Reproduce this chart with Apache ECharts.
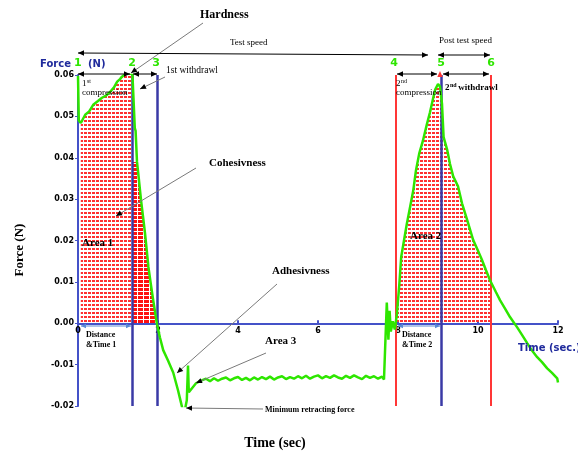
<!DOCTYPE html>
<html><head><meta charset="utf-8">
<script src="https://cdn.jsdelivr.net/npm/echarts@6/dist/echarts.min.js"></script>
<style>html,body{margin:0;padding:0;background:#fff}#c{width:578px;height:455px}</style>
</head><body><div id="c"></div>
<script>
// ---- data (time in s, force in N) ----
const curveT = [0.00,0.02,0.07,0.18,0.28,0.38,0.50,0.60,0.70,0.80,0.90,0.98,1.05,1.10,1.17,1.23,1.30,1.36,
1.42,1.44,1.475,1.525,1.575,1.625,1.675,1.72,1.76,1.82,1.88,1.93,1.97,
2.05,2.13,2.25,2.38,2.50,2.57,2.62,2.68,2.72,2.75,2.77,2.85,2.95,3.05,
3.1,3.2,3.3,3.4,3.5,3.6,3.7,3.8,3.9,4.0,4.1,4.2,4.3,4.4,4.5,4.6,4.7,4.8,4.9,5.0,5.1,5.2,5.3,5.4,5.5,5.6,5.7,5.8,5.9,6.0,6.1,6.2,6.3,6.4,6.5,6.6,6.7,6.8,6.9,7.0,7.1,7.2,7.3,7.4,7.5,7.6,7.65,
7.70,7.72,7.76,7.79,7.82,7.87,7.92,7.97,8.03,8.08,8.15,8.22,8.30,8.38,8.45,8.53,8.62,8.72,8.80,8.87,8.93,9.00,
9.05,9.10,9.14,9.23,9.30,9.38,9.50,9.60,9.73,9.88,10.00,10.10,10.20,10.30,10.45,10.55,10.68,10.80,10.98,11.10,11.23,11.35,11.48,11.60,11.73,11.85,11.98,12.00];
const curveF = [0.0598,0.0490,0.0484,0.0504,0.0512,0.0528,0.0537,0.0545,0.0550,0.0559,0.0570,0.0584,0.0590,0.0596,0.0601,0.0605,0.0603,0.0603,
0.0472,0.0465,0.0390,0.0345,0.0298,0.0258,0.0218,0.0175,0.0136,0.0095,0.0056,0.0025,0.0000,
-0.0035,-0.0065,-0.0090,-0.0119,-0.0162,-0.0190,-0.0210,-0.0206,-0.0186,-0.0102,-0.0167,-0.0157,-0.0145,-0.0140,
-0.0141,-0.0134,-0.0140,-0.0133,-0.0139,-0.0134,-0.0131,-0.0138,-0.0133,-0.0130,-0.0137,-0.0132,-0.0138,-0.0131,-0.0136,-0.0130,-0.0135,-0.0129,-0.0136,-0.0131,-0.0128,-0.0135,-0.0130,-0.0134,-0.0128,-0.0133,-0.0127,-0.0134,-0.0129,-0.0126,-0.0133,-0.0128,-0.0132,-0.0126,-0.0131,-0.0134,-0.0127,-0.0132,-0.0126,-0.0131,-0.0135,-0.0127,-0.0132,-0.0128,-0.0134,-0.0129,-0.0136,
-0.0133,0.0050,-0.0040,0.0030,-0.0020,0.0005,-0.0015,0.0020,0.0090,0.0160,0.0200,0.0240,0.0280,0.0320,0.0370,0.0410,0.0440,0.0480,0.0510,0.0540,0.0565,0.0578,
0.0572,0.0530,0.0450,0.0419,0.0385,0.0355,0.0331,0.0290,0.0249,0.0201,0.0175,0.0153,0.0128,0.0104,0.0075,0.0056,0.0035,0.0015,-0.0010,-0.0028,-0.0048,-0.0066,-0.0082,-0.0094,-0.0109,-0.0120,-0.0133,-0.0143];
const xTicks = [0,2,4,6,8,10,12];
const yTicks = [-0.02,-0.01,0.00,0.01,0.02,0.03,0.04,0.05,0.06];
const blueLines = [1.36,1.97,9.08];
const redLines = [7.95,10.33];
const area1Range = [0.05,1.36];
const area1bRange = [1.36,1.97];
const area2Range = [7.95,10.33];

// ---- build ----
const pts = curveT.map((t,i)=>[t,curveF[i]]);
function interp(t){for(let i=1;i<pts.length;i++){if(pts[i][0]>=t){const a=pts[i-1],b=pts[i];return a[1]+(b[1]-a[1])*(t-a[0])/(b[0]-a[0]);}}return 0;}
const fill1 = pts.filter(p=>p[0]>=area1Range[0]&&p[0]<=area1Range[1]);
const fill2 = [[area1bRange[0],0.039]].concat(pts.filter(p=>p[0]>area1bRange[0]&&p[0]<=area1bRange[1]).map(p=>[p[0],Math.min(p[1],0.039)]));
const fill3 = [[area2Range[0],0]].concat(pts.filter(p=>p[0]>=area2Range[0]&&p[0]<=area2Range[1]).map(p=>[p[0],Math.max(p[1],0)])).concat([[area2Range[1],interp(area2Range[1])]]);

function pattern(w,h,rects,color){const c=document.createElement('canvas');c.width=w;c.height=h;const g=c.getContext('2d');g.fillStyle=color;rects.forEach(r=>g.fillRect(r[0],r[1],r[2],r[3]));return c;}
const lightPat = {image:pattern(4,4,[[0,0,3,2]],'#ff3030'),repeat:'repeat'};
const densePat = {image:pattern(6,4,[[0,0,5,3]],'#ff1010'),repeat:'repeat'};

const BLUE='#4452c8', VBLUE='#3a3aa6', RED='#ff3636', GREEN='#2ee600';
const serif='"Liberation Serif","DejaVu Serif",serif';

function head(x1,y1,x2,y2,s,col){const a=Math.atan2(y2-y1,x2-x1);const bx=x2-s*Math.cos(a),by=y2-s*Math.sin(a);const px=Math.sin(a)*s*0.45,py=-Math.cos(a)*s*0.45;
 return {type:'polygon',shape:{points:[[x2,y2],[bx+px,by+py],[bx-px,by-py]]},style:{fill:col},silent:true,z:100};}
function pointer(x1,y1,x2,y2){return [{type:'line',shape:{x1,y1,x2,y2},style:{stroke:'#7a7a7a',lineWidth:1},z:100},head(x1,y1,x2,y2,6,'#000')];}
function dbl(x1,y1,x2,y2,col,s){s=s||6;return [{type:'line',shape:{x1,y1,x2,y2},style:{stroke:col,lineWidth:1},z:100},head(x2,y2,x1,y1,s,col),head(x1,y1,x2,y2,s,col)];}
function txt(t,x,y,font,fill,align,extra){return Object.assign({type:'text',x,y,style:{text:t,font,fill:fill||'#000',textAlign:align||'left',textVerticalAlign:'middle'},z:110},extra||{});}

const graphics = [].concat(
 pointer(203,23,131,73), pointer(165,77,140,89), pointer(196,168,116,216),
 pointer(277,284,177,373), pointer(266,353,196,383), pointer(263,409,186,408),
 dbl(78,53,428,55,'#000'), dbl(438,55,490,55,'#000'),
 dbl(78,74,130,74,'#000'), dbl(133,74,157,74,'#000'), dbl(397,74,437,74,'#000'), dbl(443,74,489,74,'#000'),
 dbl(81,326,131,326,'#5a8ad6',5), dbl(398,326,440,326,'#5a8ad6',5),
 [head(440,82,440,71,6,RED)],
 [
 txt('Hardness',200,15,'bold 12px '+serif),
 txt('Test speed',230,43,'9px '+serif),
 txt('Post test speed',439,41,'9px '+serif),
 txt('1st withdrawl',166,70,'9.5px '+serif),
 txt('1',82,84,'9px '+serif), txt('st',87,81,'6px '+serif),
 txt('compression',82,93,'9px '+serif),
 txt('2',396,84,'9px '+serif), txt('nd',401,81,'6px '+serif),
 txt('compression',396,93,'9px '+serif),
 txt('2',445,88,'bold 9px '+serif), txt('nd',450,85,'bold 6px '+serif), txt(' withdrawl',456,88,'bold 9px '+serif),
 txt('Cohesivness',209,163,'bold 11px '+serif),
 txt('Area 1',82,243,'bold 11px '+serif),
 txt('Area 2',410,236,'bold 11px '+serif),
 txt('Adhesivness',272,271,'bold 11px '+serif),
 txt('Area 3',265,341,'bold 11px '+serif),
 txt('Minimum retracting force',265,410,'bold 8px '+serif),
 txt('Distance',86,335,'bold 8px '+serif), txt('&Time 1',86,345,'bold 8px '+serif),
 txt('Distance',402,335,'bold 8px '+serif), txt('&Time 2',402,345,'bold 8px '+serif),
 txt('Time (sec)',275,443,'bold 14px '+serif,'#000','center'),
 txt('Time (sec.)',518,348,'bold 10px "DejaVu Sans"','#1f2a9c'),
 txt('Force',40,64,'bold 10px "DejaVu Sans"','#1f2a9c'),
 txt('1',74,63,'bold 11px "DejaVu Sans"',GREEN),
 txt('(N)',88,64,'bold 10px "DejaVu Sans"','#1f2a9c'),
 txt('2',132,63,'bold 11px "DejaVu Sans"',GREEN,'center'),
 txt('3',156,63,'bold 11px "DejaVu Sans"',GREEN,'center'),
 txt('4',394,63,'bold 11px "DejaVu Sans"',GREEN,'center'),
 txt('5',441,63,'bold 11px "DejaVu Sans"',GREEN,'center'),
 txt('6',491,63,'bold 11px "DejaVu Sans"',GREEN,'center'),
 {type:'text',x:20,y:250,rotation:Math.PI/2,style:{text:'Force (N)',font:'bold 13px '+serif,fill:'#000',textAlign:'center',textVerticalAlign:'middle'},z:110}
 ]
);

const chart = echarts.init(document.getElementById('c'),null,{renderer:'canvas'});
chart.setOption({
 animation:false,
 grid:{left:78,right:20,top:75,bottom:49},
 xAxis:{type:'value',min:xTicks[0],max:xTicks[xTicks.length-1],interval:2,
  axisLine:{onZero:false,lineStyle:{color:BLUE,width:2}},
  axisTick:{inside:true,length:3,lineStyle:{color:BLUE,width:2}},
  axisLabel:{color:'#000',fontWeight:'bold',fontSize:8,fontFamily:'DejaVu Sans',margin:4},
  splitLine:{show:false}},
 yAxis:{type:'value',min:yTicks[0],max:yTicks[yTicks.length-1],interval:0.01,
  axisLine:{show:true,lineStyle:{color:BLUE,width:2}},
  axisTick:{show:true,length:3,lineStyle:{color:BLUE}},
  axisLabel:{color:'#000',fontWeight:'bold',fontSize:8,fontFamily:'DejaVu Sans',margin:4,formatter:v=>v.toFixed(2)},
  splitLine:{show:false}},
 series:[
  {type:'line',data:fill1,showSymbol:false,symbol:'none',lineStyle:{width:0,opacity:0},areaStyle:{color:lightPat,opacity:1},z:1,silent:true},
  {type:'line',data:fill2,showSymbol:false,symbol:'none',lineStyle:{width:0,opacity:0},areaStyle:{color:densePat,opacity:1},z:1,silent:true},
  {type:'line',data:fill3,showSymbol:false,symbol:'none',lineStyle:{width:0,opacity:0},areaStyle:{color:lightPat,opacity:1},z:1,silent:true},
  {type:'line',data:[],z:3,silent:true,
   markLine:{silent:true,symbol:['none','none'],label:{show:false},animation:false,
    data:blueLines.map(v=>({xAxis:v,lineStyle:{color:VBLUE,width:2.5,type:'solid'}}))
     .concat(redLines.map(v=>({xAxis:v,lineStyle:{color:RED,width:2,type:'solid'}})))}},
  {type:'line',data:pts,showSymbol:false,symbol:'none',lineStyle:{color:GREEN,width:2.5},z:5,silent:true}
 ],
 graphic:graphics
});
// move the x axis (line, ticks, labels) up to the zero force level
const zeroY = chart.convertToPixel({yAxisIndex:0},0);
const bottomY = chart.convertToPixel({yAxisIndex:0},yTicks[0]);
chart.setOption({xAxis:{offset:-(bottomY-zeroY)}});
</script></body></html>
